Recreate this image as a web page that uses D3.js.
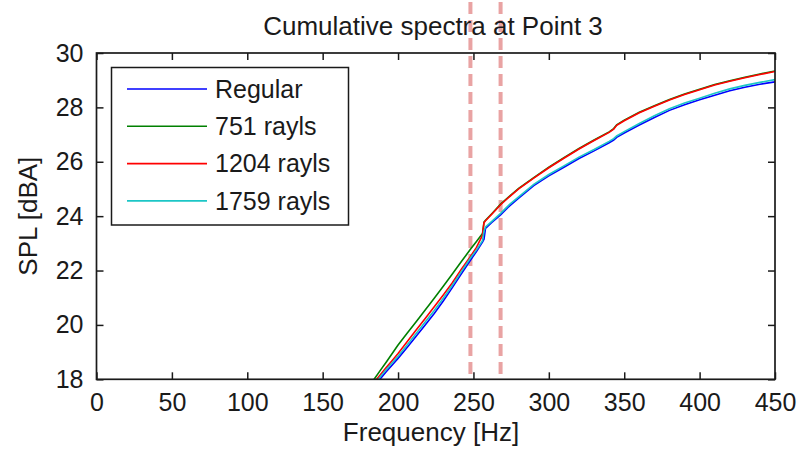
<!DOCTYPE html>
<html>
<head>
<meta charset="utf-8">
<script src="https://cdn.jsdelivr.net/npm/d3@7"></script>
<style>
  body { margin: 0; background: #fff; }
  svg { display: block; font-family: "Liberation Sans", Arial, sans-serif; }
</style>
</head>
<body>
<svg id="chart" width="798" height="452"></svg>
<script>
// frequency grid [Hz]
const freqs = [180, 184, 188, 192, 196, 200, 206, 212, 218, 224, 230, 236, 242, 248, 252, 256, 257, 258,
  262, 268, 274, 280, 290, 300, 310, 320, 330, 340, 343, 345, 350, 360, 370, 380, 390, 400, 410, 420, 430, 440, 450];

// cumulative SPL [dBA] per configuration
const splRegular = [17.45, 17.72, 18.0, 18.27, 18.52, 18.77, 19.17, 19.58, 20.0, 20.42, 20.88, 21.37, 21.88, 22.38, 22.70, 23.05, 23.15, 23.55,
  23.76, 24.05, 24.38, 24.66, 25.12, 25.48, 25.80, 26.12, 26.40, 26.70, 26.80, 26.90, 27.06, 27.35, 27.63, 27.89, 28.10, 28.28, 28.45, 28.61, 28.74, 28.85, 28.94];
const spl751 = [17.68, 17.99, 18.31, 18.62, 18.94, 19.26, 19.69, 20.12, 20.55, 20.98, 21.42, 21.87, 22.33, 22.78, 23.07, 23.36, 23.78, 23.85,
  24.08, 24.44, 24.74, 25.02, 25.42, 25.80, 26.15, 26.49, 26.80, 27.10, 27.22, 27.36, 27.53, 27.82, 28.06, 28.29, 28.49, 28.67, 28.84, 28.98, 29.11, 29.23, 29.34];
const spl1204 = [17.6, 17.88, 18.15, 18.42, 18.68, 18.95, 19.38, 19.81, 20.24, 20.67, 21.10, 21.55, 22.05, 22.52, 22.85, 23.30, 23.76, 23.83,
  24.06, 24.42, 24.72, 25.0, 25.40, 25.78, 26.13, 26.47, 26.78, 27.08, 27.20, 27.34, 27.51, 27.80, 28.04, 28.27, 28.47, 28.65, 28.82, 28.96, 29.09, 29.21, 29.32];
const spl1759 = [17.52, 17.8, 18.08, 18.35, 18.6, 18.85, 19.26, 19.68, 20.11, 20.53, 20.98, 21.46, 21.96, 22.46, 22.76, 23.10, 23.45, 23.60,
  23.80, 24.10, 24.43, 24.71, 25.17, 25.53, 25.85, 26.17, 26.45, 26.75, 26.85, 26.95, 27.11, 27.41, 27.69, 27.95, 28.16, 28.34, 28.52, 28.68, 28.81, 28.92, 29.02];

const seriesNames = ["Regular", "751 rayls", "1204 rayls", "1759 rayls"];
const seriesColors = ["#0000ff", "#008000", "#ff0000", "#1cc6c6"];
const seriesValues = [splRegular, spl751, spl1204, spl1759];

// marked frequencies (dashed lines)
const markFreqs = [248, 268];

const xTicks = [0, 50, 100, 150, 200, 250, 300, 350, 400, 450];
const yTicks = [18, 20, 22, 24, 26, 28, 30];

const svg = d3.select("#chart");
const box = { left: 96.5, right: 775, top: 53, bottom: 379.3 };
const fontSize = 25;
const labelSize = 26;

const x = d3.scaleLinear().domain([0, 450]).range([box.left, box.right]);
const y = d3.scaleLinear().domain([18, 30]).range([box.bottom, box.top]);

svg.append("defs").append("clipPath").attr("id", "plotClip")
  .append("rect").attr("x", box.left).attr("y", box.top)
  .attr("width", box.right - box.left).attr("height", box.bottom - box.top);

// dashed marker lines, they run up past the axes
svg.selectAll(".mark")
  .data(markFreqs)
  .enter()
  .append("line")
  .attr("x1", d => x(d)).attr("x2", d => x(d))
  .attr("y1", 2).attr("y2", box.bottom)
  .attr("stroke", "#e9a3a3")
  .attr("stroke-width", 4)
  .attr("stroke-dasharray", "12,6");

// data lines
const line = d3.line()
  .x((d, i) => x(freqs[i]))
  .y(d => y(d));

svg.append("g").attr("clip-path", "url(#plotClip)")
  .selectAll("path")
  .data(seriesValues)
  .enter()
  .append("path")
  .attr("d", d => line(d))
  .attr("fill", "none")
  .attr("stroke", (d, i) => seriesColors[i])
  .attr("stroke-width", 1.6);

// axes (box with inward ticks on all sides)
const tickLen = 7;
const axisColor = "#1a1a1a";

svg.append("g")
  .attr("transform", `translate(0, ${box.bottom})`)
  .call(d3.axisBottom(x).tickValues(xTicks).tickSize(-tickLen).tickPadding(14))
  .call(g => g.select(".domain").remove());

svg.append("g")
  .attr("transform", `translate(0, ${box.top})`)
  .call(d3.axisTop(x).tickValues(xTicks).tickSize(-tickLen).tickFormat(""))
  .call(g => g.select(".domain").remove());

svg.append("g")
  .attr("transform", `translate(${box.left}, 0)`)
  .call(d3.axisLeft(y).tickValues(yTicks).tickSize(-tickLen).tickPadding(13))
  .call(g => g.select(".domain").remove());

svg.append("g")
  .attr("transform", `translate(${box.right}, 0)`)
  .call(d3.axisRight(y).tickValues(yTicks).tickSize(-tickLen).tickFormat(""))
  .call(g => g.select(".domain").remove());

svg.selectAll(".tick line").attr("stroke", axisColor).attr("stroke-width", 1.5);
svg.selectAll(".tick text")
  .attr("font-family", "'Liberation Sans', Arial, sans-serif")
  .attr("font-size", fontSize)
  .attr("fill", "#1a1a1a");

svg.append("rect")
  .attr("x", box.left).attr("y", box.top)
  .attr("width", box.right - box.left).attr("height", box.bottom - box.top)
  .attr("fill", "none")
  .attr("stroke", axisColor)
  .attr("stroke-width", 1.7);

// titles
svg.append("text")
  .attr("x", 433).attr("y", 35)
  .attr("text-anchor", "middle")
  .attr("font-size", labelSize)
  .attr("fill", "#1a1a1a")
  .text("Cumulative spectra at Point 3");

svg.append("text")
  .attr("x", 431).attr("y", 441)
  .attr("text-anchor", "middle")
  .attr("font-size", labelSize)
  .attr("fill", "#1a1a1a")
  .text("Frequency [Hz]");

svg.append("text")
  .attr("transform", `translate(37, ${(box.top + box.bottom) / 2}) rotate(-90)`)
  .attr("text-anchor", "middle")
  .attr("font-size", labelSize)
  .attr("fill", "#1a1a1a")
  .text("SPL [dBA]");

// legend
const legend = svg.append("g");
legend.append("rect")
  .attr("x", 111.5).attr("y", 67.5)
  .attr("width", 237).attr("height", 157.5)
  .attr("fill", "#fff")
  .attr("stroke", axisColor)
  .attr("stroke-width", 1.5);

const rows = legend.selectAll(".row")
  .data(seriesNames)
  .enter()
  .append("g")
  .attr("transform", (d, i) => `translate(0, ${89 + i * 37.3})`);

rows.append("line")
  .attr("x1", 127).attr("x2", 207)
  .attr("stroke", (d, i) => seriesColors[i])
  .attr("stroke-width", 1.6);

rows.append("text")
  .attr("x", 215)
  .attr("dy", "0.35em")
  .attr("font-size", fontSize)
  .attr("fill", "#1a1a1a")
  .text(d => d);
</script>
</body>
</html>
